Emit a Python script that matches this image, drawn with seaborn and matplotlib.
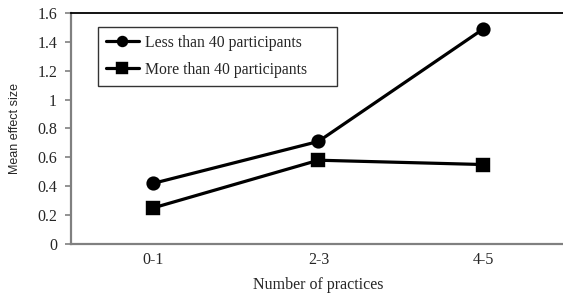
import pandas as pd
import matplotlib.pyplot as plt
import seaborn as sns

# === Data ===
practices = ["0-1", "2-3", "4-5"]
less_than_40 = [0.42, 0.71, 1.49]
more_than_40 = [0.25, 0.58, 0.55]
groups = ["Less than 40 participants", "More than 40 participants"]
y_ticks = [0, 0.2, 0.4, 0.6, 0.8, 1.0, 1.2, 1.4, 1.6]

df = pd.DataFrame({
    "practice": practices * 2,
    "effect": less_than_40 + more_than_40,
    "group": [groups[0]] * 3 + [groups[1]] * 3,
})

sns.set_style("white")
plt.rcParams['font.family'] = ['Liberation Serif', 'DejaVu Serif']

fig = plt.figure(figsize=(5.63, 2.96), dpi=100)
ax = fig.add_axes([0.126, 0.176, 0.879, 0.780])

sns.pointplot(data=df, x="practice", y="effect", hue="group",
              markers=["o", "s"], linestyles=["-", "-"],
              palette=["black", "black"], markersize=8.5, linewidth=2.3,
              errorbar=None, ax=ax)

ax.set_xlim(-0.5, 2.5)
ax.set_ylim(0, 1.6)
ax.set_yticks(y_ticks)
ax.set_yticklabels([f"{v:g}" for v in y_ticks], fontsize=11.5)
ax.tick_params(axis="y", left=True, length=4, width=1.2, color="#808080", pad=6)
ax.tick_params(axis="x", bottom=False, labelsize=11.5, pad=2.5)

ax.set_xlabel("Number of practices", fontsize=11.5, labelpad=6)
ax.set_ylabel("Mean effect size", fontsize=9, family=["Liberation Sans"], labelpad=12)

for side in ["left", "bottom"]:
    ax.spines[side].set_color("#808080")
    ax.spines[side].set_linewidth(1.6)
ax.spines["top"].set_color("black")
ax.spines["top"].set_linewidth(1.3)
ax.spines["right"].set_visible(False)

handles, labels = ax.get_legend_handles_labels()
for h in handles:
    h.set_markersize(6.5)
    h.set_linewidth(2.3)
leg = ax.legend(handles, labels, loc="upper left",
                bbox_to_anchor=(0.055, 0.5, 0.483, 0.44), mode="expand",
                borderaxespad=0, fontsize=11.3, frameon=True, fancybox=False,
                edgecolor="black", handlelength=2.1, borderpad=0.5,
                labelspacing=0.7, handletextpad=0.4)
leg.get_frame().set_linewidth(1.0)

fig.savefig("out.png", dpi=100)
